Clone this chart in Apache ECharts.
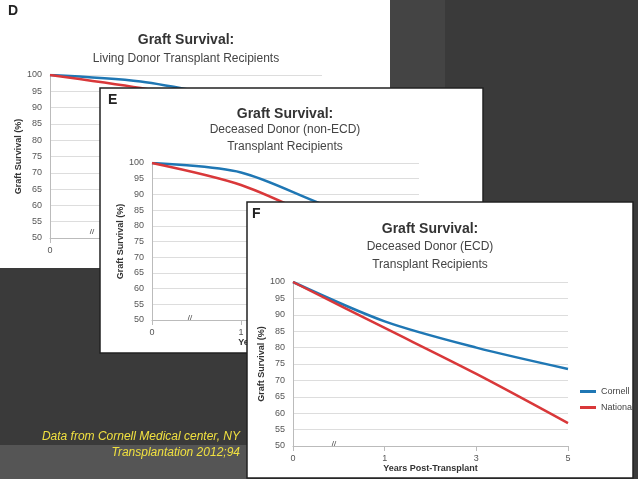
<!DOCTYPE html>
<html><head><meta charset="utf-8">
<script src="https://cdn.jsdelivr.net/npm/echarts@6/dist/echarts.min.js"></script>
<style>html,body{margin:0;padding:0;background:#3a3a3a;}#c{width:638px;height:479px;}</style>
</head><body><div id="c"></div>
<script>
const years = ['0','1','3','5'];
const yTicks = [50,55,60,65,70,75,80,85,90,95,100];
const dCornell = [100, 98, 93, 88];
const dNational = [100, 96, 91, 85];
const eCornell = [100, 97, 86, 78];
const eNational = [100, 93, 81, 72];
const fCornell = [100, 88, 80, 73.5];
const fNational = [100, 86, 72, 57];

const BLUE = '#1f77b4', RED = '#d9383a';
const grids = [
  {left:50, top:75, width:272, height:163},
  {left:152, top:163, width:267, height:157},
  {left:293, top:282, width:275, height:164}
];
function xa(i, name){
  return {type:'category', gridIndex:i, zlevel:i, data:years, boundaryGap:false,
    axisLine:{lineStyle:{color:'#bbb'}}, axisTick:{show:true, lineStyle:{color:'#bbb'}},
    axisLabel:{color:'#555', fontSize:9, fontFamily:'Liberation Sans'},
    name:name, nameLocation:'middle', nameGap:17,
    nameTextStyle:{color:'#333', fontSize:9, fontWeight:'bold', fontFamily:'Liberation Sans'}};
}
function ya(i){
  return {type:'value', gridIndex:i, zlevel:i, min:50, max:100, interval:5,
    axisLine:{show:true, lineStyle:{color:'#bbb'}}, axisTick:{show:false},
    splitLine:{lineStyle:{color:'#ddd'}},
    axisLabel:{color:'#555', fontSize:9, fontFamily:'Liberation Sans'},
    name:'Graft Survival (%)', nameLocation:'middle', nameGap:27, nameRotate:90,
    nameTextStyle:{color:'#333', fontSize:9, fontWeight:'bold', fontFamily:'Liberation Sans'}};
}
function ser(i, name, data, color){
  return {type:'line', name:name, xAxisIndex:i, yAxisIndex:i, zlevel:i, z:5, data:data, smooth:0.3,
    symbol:'none', lineStyle:{color:color, width:2.5}, itemStyle:{color:color}};
}
function panel(x,y,w,h,zl,border){
  return {type:'rect', shape:{x:x,y:y,width:w,height:h}, zlevel:zl, z:-10,
    style:{fill:'#fff', stroke:border?'#222':null, lineWidth:border?1.5:0}};
}
function txt(x,y,t,sz,wt,zl,col,align){
  return {type:'text', x:x, y:y, zlevel:zl, z:10, style:{text:t, fontSize:sz, fontWeight:wt||'normal',
    fill:col||'#333', fontFamily:'Liberation Sans', align:align||'center', verticalAlign:'middle'}};
}
const chart = echarts.init(document.getElementById('c'));
chart.setOption({
  backgroundColor:'#3a3a3a',
  animation:false,
  grid:grids,
  xAxis:[xa(0,''), xa(1,'Years Post-Transplant'), xa(2,'Years Post-Transplant')],
  yAxis:[ya(0), ya(1), ya(2)],
  legend:{orient:'vertical', left:575, top:382, zlevel:2, z:10, itemWidth:16, itemHeight:3, itemGap:7,
    icon:'rect', textStyle:{fontSize:9, color:'#444', fontFamily:'Liberation Sans'},
    data:['Cornell','National']},
  series:[
    ser(0,'Cornell',dCornell,BLUE), ser(0,'National',dNational,RED),
    ser(1,'Cornell',eCornell,BLUE), ser(1,'National',eNational,RED),
    ser(2,'Cornell',fCornell,BLUE), ser(2,'National',fNational,RED)
  ],
  graphic:{elements:[
    {type:'rect', shape:{x:0,y:445,width:250,height:34}, zlevel:0, z:-20, style:{fill:'#555'}},
    {type:'rect', shape:{x:390,y:0,width:55,height:479}, zlevel:0, z:-20, style:{fill:'#444'}},
    panel(0,0,390,268,0,false),
    txt(8,11,'D',14,'bold',0,'#222','left'),
    txt(186,40,'Graft Survival:',14,'bold',0),
    txt(186,59,'Living Donor Transplant Recipients',12,'normal',0,'#444'),
    txt(92,232,'//',8,'normal',0,'#333'),
    panel(100,88,383,265,1,true),
    txt(108,100,'E',14,'bold',1,'#222','left'),
    txt(285,114,'Graft Survival:',14,'bold',1),
    txt(285,130,'Deceased Donor (non-ECD)',12,'normal',1,'#444'),
    txt(285,147,'Transplant Recipients',12,'normal',1,'#444'),
    txt(190,318,'//',8,'normal',1,'#333'),
    panel(247,202,386,276,2,true),
    txt(252,214,'F',14,'bold',2,'#222','left'),
    txt(430,229,'Graft Survival:',14,'bold',2),
    txt(430,247,'Deceased Donor (ECD)',12,'normal',2,'#444'),
    txt(430,265,'Transplant Recipients',12,'normal',2,'#444'),
    txt(334,444,'//',8,'normal',2,'#333'),
    {type:'text', x:240, y:437, zlevel:3, style:{text:'Data from Cornell Medical center, NY', fontSize:12, fontStyle:'italic', fill:'#f0e040', fontFamily:'Liberation Sans', align:'right', verticalAlign:'middle'}},
    {type:'text', x:240, y:453, zlevel:3, style:{text:'Transplantation 2012;94', fontSize:12, fontStyle:'italic', fill:'#f0e040', fontFamily:'Liberation Sans', align:'right', verticalAlign:'middle'}}
  ]}
});
</script></body></html>
